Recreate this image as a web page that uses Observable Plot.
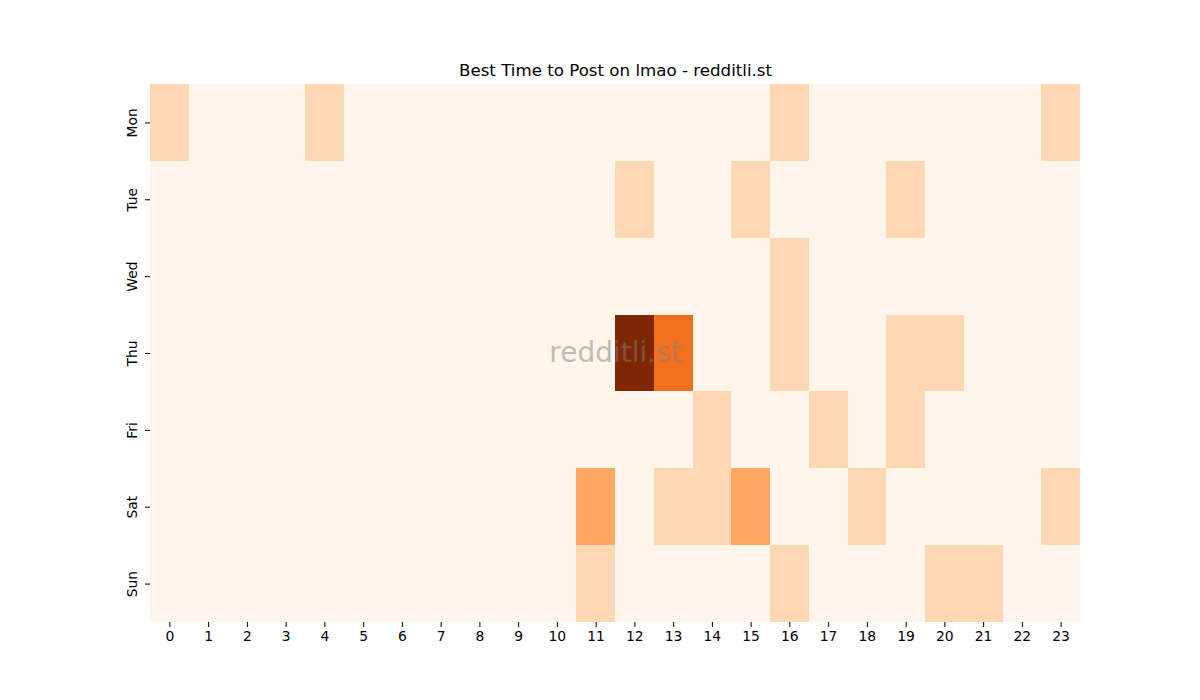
<!DOCTYPE html>
<html>
<head>
<meta charset="utf-8">
<script src="https://cdn.jsdelivr.net/npm/d3@7"></script>
<script src="https://cdn.jsdelivr.net/npm/@observablehq/plot@0.6"></script>
<style>
  body { margin: 0; background: #fff; }
  #chart svg { font-family: "DejaVu Sans", sans-serif; }
</style>
</head>
<body>
<div id="chart"></div>
<script>
const days = ["Mon", "Tue", "Wed", "Thu", "Fri", "Sat", "Sun"];
const hours = d3.range(24);
// post counts per day (rows) and hour (columns)
const mon = [1,0,0,0,1,0,0,0,0,0,0,0,0,0,0,0,1,0,0,0,0,0,0,1];
const tue = [0,0,0,0,0,0,0,0,0,0,0,0,1,0,0,1,0,0,0,1,0,0,0,0];
const wed = [0,0,0,0,0,0,0,0,0,0,0,0,0,0,0,0,1,0,0,0,0,0,0,0];
const thu = [0,0,0,0,0,0,0,0,0,0,0,0,5,3,0,0,1,0,0,1,1,0,0,0];
const fri = [0,0,0,0,0,0,0,0,0,0,0,0,0,0,1,0,0,1,0,1,0,0,0,0];
const sat = [0,0,0,0,0,0,0,0,0,0,0,2,0,1,1,2,0,0,1,0,0,0,0,1];
const sun = [0,0,0,0,0,0,0,0,0,0,0,1,0,0,0,0,1,0,0,0,1,1,0,0];
const title = "Best Time to Post on lmao - redditli.st";
const watermark = "redditli.st";

const rows = [mon, tue, wed, thu, fri, sat, sun];
const data = [];
rows.forEach((r, i) => r.forEach((v, h) => data.push({day: days[i], hour: hours[h], value: v})));

const plot = Plot.plot({
  width: 1200,
  height: 700,
  marginLeft: 150,
  marginRight: 120,
  marginTop: 84,
  marginBottom: 78,
  style: {fontFamily: "DejaVu Sans, sans-serif", fontSize: "13.9px", background: "#fff"},
  x: {type: "band", domain: hours, padding: 0, round: false, label: null},
  y: {type: "band", domain: days, padding: 0, round: false, label: null},
  color: {type: "linear", scheme: "oranges", domain: [0, 5]},
  marks: [
    Plot.cell(data, {x: "hour", y: "day", fill: "value", inset: 0, shapeRendering: "crispEdges"}),
    Plot.axisX({tickSize: 5, tickPadding: 4, fontSize: 13.9, label: null, stroke: "#000"}),
    Plot.axisY({tickSize: 5, tickPadding: 9, fontSize: 13.9, label: null, tickRotate: -90, stroke: "#000"}),
    Plot.text([watermark], {frameAnchor: "middle", text: d => d, fontSize: 28, fill: "gray", fillOpacity: 0.5}),
    Plot.text([title], {frameAnchor: "top", lineAnchor: "middle", text: d => d, dy: -14, fontSize: 16.67, fill: "#000"})
  ]
});
document.getElementById("chart").appendChild(plot);
</script>
</body>
</html>
